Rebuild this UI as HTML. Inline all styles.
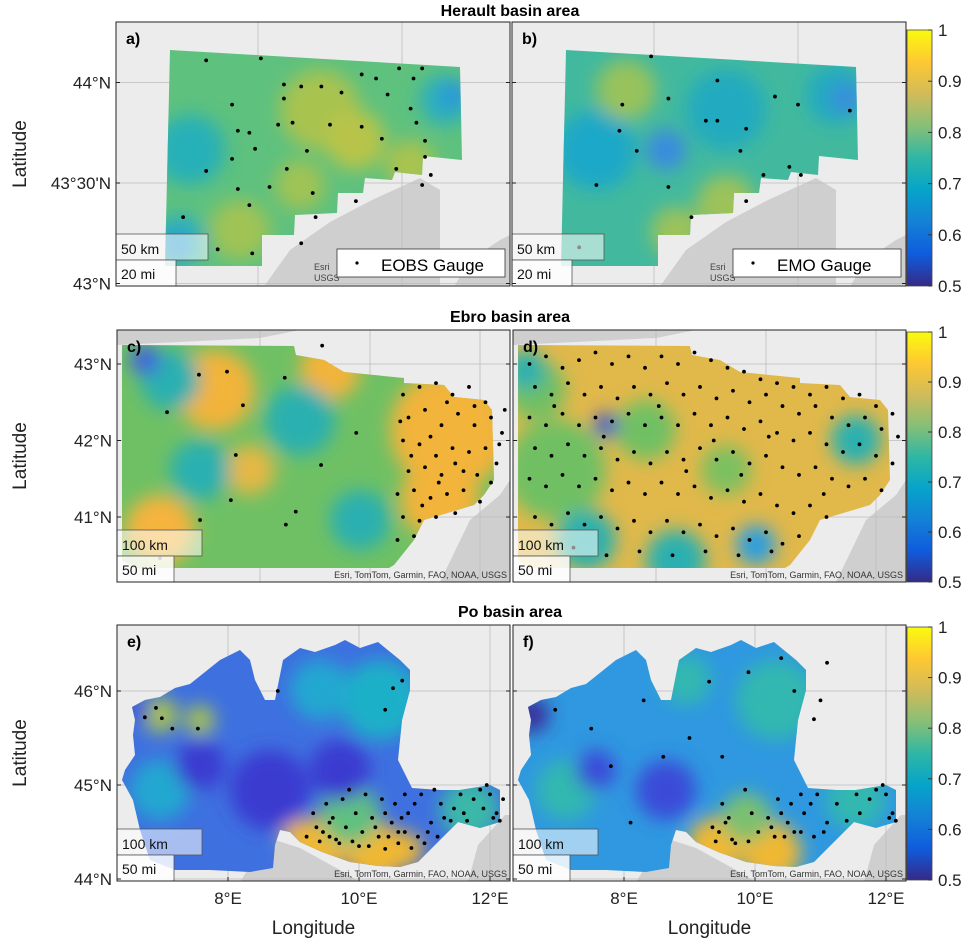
<!DOCTYPE html>
<html><head><meta charset="utf-8"><style>
html,body{margin:0;padding:0;background:#fff;}
svg{display:block;font-family:"Liberation Sans",sans-serif;}
</style></head><body>
<svg id="fig" width="973" height="951" viewBox="0 0 973 951" xmlns="http://www.w3.org/2000/svg">
<defs>
<linearGradient id="parula" x1="0" y1="1" x2="0" y2="0">
<stop offset="0" stop-color="#352a87"/><stop offset="0.125" stop-color="#0f5cdd"/><stop offset="0.25" stop-color="#1481d6"/><stop offset="0.375" stop-color="#06a4ca"/><stop offset="0.5" stop-color="#2eb7a4"/><stop offset="0.625" stop-color="#87bf77"/><stop offset="0.75" stop-color="#d1bb59"/><stop offset="0.875" stop-color="#fec832"/><stop offset="1" stop-color="#f9fb0e"/>
</linearGradient>
<filter id="blur" x="-50%" y="-50%" width="200%" height="200%"><feGaussianBlur stdDeviation="9"/></filter>
</defs>
<text x="510" y="16" font-size="16" font-weight="bold" text-anchor="middle">Herault basin area</text>
<text x="510" y="322" font-size="16" font-weight="bold" text-anchor="middle">Ebro basin area</text>
<text x="510" y="617" font-size="16" font-weight="bold" text-anchor="middle">Po basin area</text>
<g id="panels"></g>
</svg>
<script>
// ---- data (gauge locations, lon/lat) ----
const heraultEobs = [[3.32,44.11],[3.51,44.12],[3.59,43.99],[3.59,43.92],[3.41,43.89],[3.65,43.98],[3.72,43.98],[3.79,43.95],[3.86,44.04],[3.91,44.02],[3.99,44.07],[4.07,44.07],[4.04,44.02],[3.95,43.94],[4.03,43.87],[4.05,43.80],[3.86,43.78],[3.93,43.72],[4.08,43.71],[4.08,43.63],[4.10,43.54],[4.07,43.49],[3.98,43.57],[3.84,43.41],[3.69,43.45],[3.70,43.33],[3.65,43.20],[3.60,43.57],[3.43,43.47],[3.54,43.48],[3.47,43.39],[3.32,43.56],[3.43,43.76],[3.47,43.75],[3.49,43.67],[3.41,43.62],[3.24,43.33],[3.36,43.17],[3.48,43.15],[3.57,43.79],[3.62,43.80],[3.75,43.79],[3.67,43.66]];
const heraultEmo = [[3.49,44.13],[3.39,43.89],[3.55,43.92],[3.38,43.76],[3.44,43.66],[3.68,43.81],[3.72,43.81],[3.82,43.77],[3.97,43.58],[4.01,43.54],[3.88,43.54],[3.82,43.41],[3.63,43.33],[3.55,43.48],[3.30,43.49],[3.24,43.18],[3.72,44.01],[3.92,43.93],[4.00,43.89],[4.18,43.86],[3.80,43.66]];
const ebroEobs = [[-2.60,42.90],[-3.11,42.86],[-1.55,42.82],[-2.31,42.46],[-3.69,42.37],[-2.44,41.81],[-0.89,41.68],[-0.25,42.10],[-2.53,41.22],[-1.35,41.07],[-1.53,40.90],[-3.09,40.96],[-3.82,40.46],[-0.87,43.24],
[0.6,42.6],[0.9,42.7],[1.2,42.75],[1.5,42.6],[1.8,42.7],[2.1,42.5],[0.7,42.3],[1.0,42.4],[1.3,42.2],[1.6,42.35],[1.9,42.2],[2.2,42.3],[2.4,42.1],[0.6,42.0],[0.9,41.95],[1.2,41.8],[1.5,41.9],[1.8,41.85],[2.1,41.9],[2.3,41.7],[0.7,41.6],[1.0,41.65],[1.3,41.55],[1.55,41.7],[1.7,41.6],[1.95,41.55],[2.2,41.45],[0.5,41.3],[0.8,41.35],[1.1,41.25],[1.4,41.3],[1.7,41.35],[2.0,41.2],[0.6,41.0],[0.9,40.95],[1.2,41.0],[0.5,40.7],[0.8,40.75],[1.1,42.05],[1.4,42.5],[0.75,41.8],[2.45,42.4],[1.9,42.45],[0.55,42.25],[1.25,41.45],[0.95,41.15],[1.55,41.05],[2.35,41.95]];
const ebroEmo = [[-4.3,43.0],[-4.0,43.1],[-3.7,42.95],[-3.4,43.05],[-3.1,43.15],[-2.8,43.0],[-2.5,43.1],[-2.2,42.95],[-1.9,43.1],[-1.6,43.0],[-1.3,43.15],[-1.0,43.05],[-0.7,42.95],[-0.4,42.9],[-0.1,42.8],[0.2,42.75],[0.5,42.7],[0.8,42.6],[1.1,42.7],[1.4,42.55],[1.7,42.6],[2.0,42.45],[2.3,42.35],
[-4.2,42.7],[-3.9,42.6],[-3.6,42.75],[-3.3,42.6],[-3.0,42.7],[-2.7,42.55],[-2.4,42.7],[-2.1,42.6],[-1.8,42.75],[-1.5,42.6],[-1.2,42.7],[-0.9,42.55],[-0.6,42.65],[-0.3,42.5],[0.0,42.6],[0.3,42.45],[0.6,42.35],[0.9,42.45],[1.2,42.3],[1.5,42.2],[1.8,42.3],[2.1,42.15],[2.4,42.05],
[-4.3,42.3],[-4.0,42.2],[-3.7,42.35],[-3.4,42.2],[-3.1,42.3],[-2.8,42.25],[-2.5,42.35],[-2.2,42.2],[-1.9,42.3],[-1.6,42.2],[-1.3,42.35],[-1.0,42.2],[-0.7,42.3],[-0.4,42.15],[-0.1,42.25],[0.2,42.1],[0.5,42.0],[0.8,42.1],[1.1,41.95],[1.4,41.85],[1.7,41.95],[2.0,41.8],[2.3,41.7],
[-4.2,41.9],[-3.9,41.8],[-3.6,41.95],[-3.3,41.8],[-3.0,41.9],[-2.7,41.75],[-2.4,41.85],[-2.1,41.7],[-1.8,41.85],[-1.5,41.75],[-1.2,41.9],[-0.9,41.75],[-0.6,41.85],[-0.3,41.7],[0.0,41.8],[0.3,41.65],[0.6,41.55],[0.9,41.65],[1.2,41.5],[1.5,41.4],[1.8,41.5],[2.1,41.35],
[-4.3,41.5],[-4.0,41.4],[-3.7,41.55],[-3.4,41.4],[-3.1,41.5],[-2.8,41.35],[-2.5,41.45],[-2.2,41.3],[-1.9,41.45],[-1.6,41.3],[-1.3,41.4],[-1.0,41.25],[-0.7,41.35],[-0.4,41.2],[-0.1,41.3],[0.2,41.15],[0.5,41.05],[0.8,41.15],[1.1,41.0],
[-4.2,41.0],[-3.9,40.9],[-3.6,41.05],[-3.3,40.9],[-3.0,41.0],[-2.7,40.85],[-2.4,40.95],[-2.1,40.8],[-1.8,40.95],[-1.5,40.8],[-1.2,40.9],[-0.9,40.75],[-0.6,40.85],[-0.3,40.7],[0.0,40.8],[0.3,40.65],[0.6,40.75],
[-3.5,40.6],[-2.9,40.5],[-2.3,40.55],[-1.7,40.5],[-1.1,40.55],[-0.5,40.5],[0.1,40.55],[-3.85,42.45],[-2.95,42.05],[-1.95,42.45],[-0.95,42.0],[0.05,42.05],[1.05,41.3],[-1.45,41.6],[-0.45,41.55]];
const poSE = [[9.2,44.45],[9.4,44.4],[9.35,44.55],[9.55,44.45],[9.7,44.38],[9.6,44.65],[9.8,44.55],[9.9,44.4],[9.5,44.8],[9.75,44.85],[9.95,44.7],[10.05,44.5],[10.15,44.35],[10.2,44.65],[10.3,44.45],[10.4,44.32],[10.35,44.85],[10.5,44.6],[10.6,44.38],[10.55,44.8],[10.7,44.5],[10.8,44.33],[10.75,44.7],[10.9,44.45],[11.0,44.38],[10.95,44.9],[11.1,44.6],[11.2,44.45],[11.25,44.8],[11.4,44.62],[11.45,44.75],[11.6,44.7],[11.75,44.85],[11.9,44.75],[12.0,44.9],[12.1,44.7],[12.2,44.85],[11.85,44.95],[12.15,44.62],[9.3,44.7],[9.45,44.5],[9.65,44.42],[10.0,44.35],[10.25,44.55],[10.45,44.45],[10.65,44.65],[10.85,44.8],[11.05,44.5],[11.3,44.65],[11.55,44.9],[9.85,44.95],[10.1,44.9],[10.4,44.7],[10.7,44.9],[11.15,44.95],[9.55,44.6],[10.6,44.5],[11.65,44.62],[12.05,44.65],[11.95,45.0]];
const poEobs = [[6.90,45.82],[6.99,45.71],[6.73,45.72],[7.15,45.60],[7.54,45.60],[8.76,46.00],[10.66,46.11],[10.52,46.03],[10.40,45.80]];
const poEmo = [[6.95,45.8],[7.5,45.6],[8.3,45.9],[8.6,45.3],[9.3,46.1],[9.9,46.2],[10.4,46.35],[10.6,46.0],[10.9,45.7],[11.0,45.9],[11.1,46.3],[9.0,45.5],[7.8,45.2],[8.1,44.6],[9.5,45.3]];
const cbTicks = [0.5,0.6,0.7,0.8,0.9,1];

const NS="http://www.w3.org/2000/svg";
const root=document.getElementById('panels');
function mk(tag,attrs,parent){const e=document.createElementNS(NS,tag);for(const k in attrs)e.setAttribute(k,attrs[k]);(parent||root).appendChild(e);return e;}

const axes={
 herault:{x:lon=>258+(lon-3.5)*288, y:lat=>183-(lat-43.5)*201},
 ebro:{x:lon=>117+(lon+4.6)*55, y:lat=>364-(lat-43)*76.5},
 po:{x:lon=>228+(lon-8)*65.5, y:lat=>785-(lat-45)*94}
};
const shapes={
 herault:"170,50 460,67 462,160 423,156 422,175 395,172 392,180 365,178 363,193 338,193 337,213 295,215 294,235 262,235 262,266 165,266",
 ebro:"122,345 294,346 296,355 324,360 344,372 404,378 404,383 444,385 454,397 484,400 492,410 494,480 484,495 474,505 424,520 414,540 394,565 389,568 134,568 122,560",
 po:"132,707 145,700 160,697 175,688 190,684 220,660 240,650 250,660 255,680 265,700 275,700 283,660 300,648 315,652 335,645 345,640 360,648 378,642 400,660 410,670 410,690 402,720 398,760 412,788 440,790 460,790 490,785 500,790 500,822 480,828 458,822 445,835 430,850 418,862 400,867 378,866 350,862 322,852 300,842 290,832 280,830 275,845 273,868 250,872 210,870 175,870 150,860 140,830 133,800 122,780 125,770 135,755 133,735 135,720"
};
const seas={
 herault:["265,285 290,250 330,222 372,200 420,178 440,190 440,285","455,285 470,260 500,240 510,235 510,285"],
 ebro:["440,582 470,520 500,495 510,480 510,582","117,330 117,345 180,342 260,338 300,330"],
 po:["240,882 255,858 275,840 300,848 340,870 360,882","468,882 478,845 505,815 510,815 510,882"]
};
const frames={herault:[116,22,394,264],ebro:[117,330,393,252],po:[117,625,393,256]};
const blobs={
 a:{base:"#5ec17e",b:[["#a9c34f",320,110,40],["#b8c44a",355,140,30],["#a0c355",300,185,25],["#a0c355",240,230,30],["#a9c34f",410,165,25],["#27b0b8",190,150,35],["#2aaec0",445,100,25],["#2aaec0",180,240,25],["#2a8fe0",455,95,12],["#2a8fe0",175,248,12]]},
 b:{base:"#42b99e",b:[["#1fa8c8",200,150,40],["#22aac0",330,110,40],["#22aac0",440,95,30],["#98c25b",230,90,30],["#9cc25a",330,205,30],["#9cc25a",280,232,25],["#3a8ae0",270,150,20],["#3a8ae0",450,98,15]]},
 c:{base:"#6fc064",b:[["#f2b43a",215,390,40],["#f2b43a",330,370,30],["#f2b43a",450,430,60],["#f2b43a",440,500,40],["#f5b43c",160,530,35],["#e4b845",250,470,25],["#2cb0b0",170,380,30],["#2cb0b0",300,420,35],["#2cb0b0",200,470,30],["#2cb0b0",360,520,30],["#3f5ee0",145,360,15]]},
 d:{base:"#e1b84a",b:[["#6fc064",160,470,50],["#6fc064",250,430,30],["#6fc064",140,390,30],["#2cb0b0",190,540,30],["#2cb0b0",280,560,30],["#2cb0b0",460,440,25],["#2cb0b0",130,370,20],["#3550d8",210,425,12],["#7bc060",330,470,25],["#2a9ee0",360,545,20]]},
 e:{base:"#3e70e0",b:[["#20a8d0",160,790,30],["#1fb0c8",380,700,40],["#20a8d0",320,690,30],["#3ab8a8",470,810,30],["#a9c34f",160,715,18],["#a9c34f",200,720,15],["#f0b830",320,845,28],["#f0b830",375,852,30],["#f0b830",300,838,18],["#f0b830",405,850,18],["#60c080",350,815,30],["#3a3bd0",270,790,40],["#3a3bd0",340,770,30],["#3a3bd0",200,765,25],["#3a3bd0",140,712,10]]},
 f:{base:"#2f98e0",b:[["#30b8b0",380,700,40],["#30b8b0",460,800,30],["#30b8b0",170,790,30],["#30b8b0",290,680,25],["#f0b830",320,845,28],["#f0b830",375,852,30],["#7cc070",350,818,25],["#3b2d9a",135,715,18],["#3a4bd8",270,790,30],["#3a4bd8",200,770,20]]}
};
const latTicks={herault:[[44,"44°N"],[43.5,"43°30'N"],[43,"43°N"]],ebro:[[43,"43°N"],[42,"42°N"],[41,"41°N"]],po:[[46,"46°N"],[45,"45°N"],[44,"44°N"]]};
const gridLon={herault:[3.5,4.0],ebro:[-2,0,2],po:[8,10,12]};

function panel(basin,key,dx,letter,gauges,legendTxt){
 const ax=axes[basin],[fx,fy,fw,fh]=frames[basin];
 const g=mk('g',{transform:`translate(${dx},0)`});
 
 
 const cid='clip'+key;
 const cp=mk('clipPath',{id:cid},g);mk('rect',{x:fx,y:fy,width:fw,height:fh},cp);
 const inner=mk('g',{'clip-path':`url(#${cid})`},g);
 mk('rect',{x:fx,y:fy,width:fw,height:fh,fill:'#ececec'},inner);
 seas[basin].forEach(p=>mk('polygon',{points:p,fill:'#cfcfcf'},inner));
 latTicks[basin].forEach(t=>mk('line',{x1:fx,x2:fx+fw,y1:ax.y(t[0]),y2:ax.y(t[0]),stroke:'#bdbdbd','stroke-width':0.8},inner));
 gridLon[basin].forEach(l=>mk('line',{x1:ax.x(l),x2:ax.x(l),y1:fy,y2:fy+fh,stroke:'#bdbdbd','stroke-width':0.8},inner));
 const rc='rclip'+key;const cp2=mk('clipPath',{id:rc},g);mk('polygon',{points:shapes[basin]},cp2);
 const fld=mk('g',{'clip-path':`url(#${rc})`},inner);
 
 
 mk('rect',{x:fx,y:fy,width:fw,height:fh,fill:blobs[key].base},fld);
 const bg=mk('g',{filter:'url(#blur)'},fld);
 blobs[key].b.forEach(b=>mk('circle',{cx:b[1],cy:b[2],r:b[3],fill:b[0]},bg));
 gauges.forEach(p=>{
  const c=mk('circle',{cx:ax.x(p[0]),cy:ax.y(p[1]),r:1.9,fill:'#000'},inner);
  
  
 });
 const sb=mk('g',{},inner);
 
 
 const km=basin==='herault'?'50 km':'100 km', mi=basin==='herault'?'20 mi':'50 mi';
 const wkm=basin==='herault'?92:85, wmi=basin==='herault'?60:57;
 mk('rect',{x:fx,y:fy+fh-52,width:wkm,height:26,fill:'rgba(255,255,255,0.55)',stroke:'#555','stroke-width':0.8},sb);
 mk('rect',{x:fx,y:fy+fh-26,width:wmi,height:26,fill:'rgba(255,255,255,0.85)',stroke:'#555','stroke-width':0.8},sb);
 const t1=mk('text',{x:fx+5,y:fy+fh-32,'font-size':14,fill:'#111'},sb);t1.textContent=km;
 const t2=mk('text',{x:fx+5,y:fy+fh-7,'font-size':14,fill:'#111'},sb);t2.textContent=mi;
 if(basin!=='herault'){
  const at=mk('text',{x:fx+fw-3,y:fy+fh-4,'font-size':9,'text-anchor':'end',fill:'#333'},inner);
  
  
  at.textContent='Esri, TomTom, Garmin, FAO, NOAA, USGS';
 } else {
  const a1=mk('text',{x:fx+198,y:fy+fh-16,'font-size':9,fill:'#444'},inner);a1.textContent='Esri';
  const a2=mk('text',{x:fx+198,y:fy+fh-5,'font-size':9,fill:'#444'},inner);a2.textContent='USGS';
  const lg=mk('g',{},inner);
  
  
  mk('rect',{x:fx+221,y:fy+fh-37,width:168,height:28,fill:'#fff',stroke:'#333','stroke-width':0.8},lg);
  mk('circle',{cx:fx+241,cy:fy+fh-23,r:1.6,fill:'#000'},lg);
  const lt=mk('text',{x:fx+265,y:fy+fh-15,'font-size':17,fill:'#000'},lg);lt.textContent=legendTxt;
 }
 const lb=mk('text',{x:fx+10,y:fy+22,'font-size':16,'font-weight':'bold'},inner);lb.textContent=letter;
 
 
 mk('rect',{x:fx,y:fy,width:fw,height:fh,fill:'none',stroke:'#222','stroke-width':1},g);
 latTicks[basin].forEach(t=>{mk('line',{x1:fx,x2:fx+4,y1:ax.y(t[0]),y2:ax.y(t[0]),stroke:'#222'},g);mk('line',{x1:fx+fw-4,x2:fx+fw,y1:ax.y(t[0]),y2:ax.y(t[0]),stroke:'#222'},g);});
 if(dx===0){
  latTicks[basin].forEach(t=>{const tx=mk('text',{x:fx-5,y:ax.y(t[0])+6,'font-size':17,'text-anchor':'end',fill:'#222'},g);tx.textContent=t[1];
   
   });
  const yl=mk('text',{x:0,y:0,'font-size':19,'text-anchor':'middle',fill:'#222',transform:`translate(26,${fy+fh/2}) rotate(-90)`},g);yl.textContent='Latitude';
  
  
 }
 if(basin==='po'){
  [[8,"8°E"],[10,"10°E"],[12,"12°E"]].forEach(t=>{const tx=mk('text',{x:ax.x(t[0]),y:904,'font-size':17,'text-anchor':'middle',fill:'#222'},g);tx.textContent=t[1];
   
   
   mk('line',{x1:ax.x(t[0]),x2:ax.x(t[0]),y1:fy+fh-4,y2:fy+fh,stroke:'#222'},g);});
  const xl=mk('text',{x:fx+fw/2,y:934,'font-size':19,'text-anchor':'middle',fill:'#222'},g);xl.textContent='Longitude';
  
  
 }
}
function colorbar(y0,y1,idx){
 const g=mk('g',{});
 
 
 mk('rect',{x:907,y:y0,width:25,height:y1-y0,fill:'url(#parula)',stroke:'#444','stroke-width':0.8},g);
 const cy=v=>y1-(v-0.5)/0.5*(y1-y0);
 cbTicks.forEach(v=>{mk('line',{x1:928,x2:932,y1:cy(v),y2:cy(v),stroke:'#333'},g);
  const t=mk('text',{x:938,y:cy(v)+6,'font-size':17,fill:'#222'},g);t.textContent=String(v);
  
  });
}
panel('herault','a',0,'a)',heraultEobs,'EOBS Gauge');
panel('herault','b',396,'b)',heraultEmo,'EMO Gauge');
panel('ebro','c',0,'c)',ebroEobs);
panel('ebro','d',396,'d)',ebroEmo);
panel('po','e',0,'e)',poSE.concat(poEobs));
panel('po','f',396,'f)',poSE.filter((p,i)=>i%3!==0).concat(poEmo));
colorbar(30,286,1);colorbar(332,582,2);colorbar(627,880,3);
</script>
</body></html>
